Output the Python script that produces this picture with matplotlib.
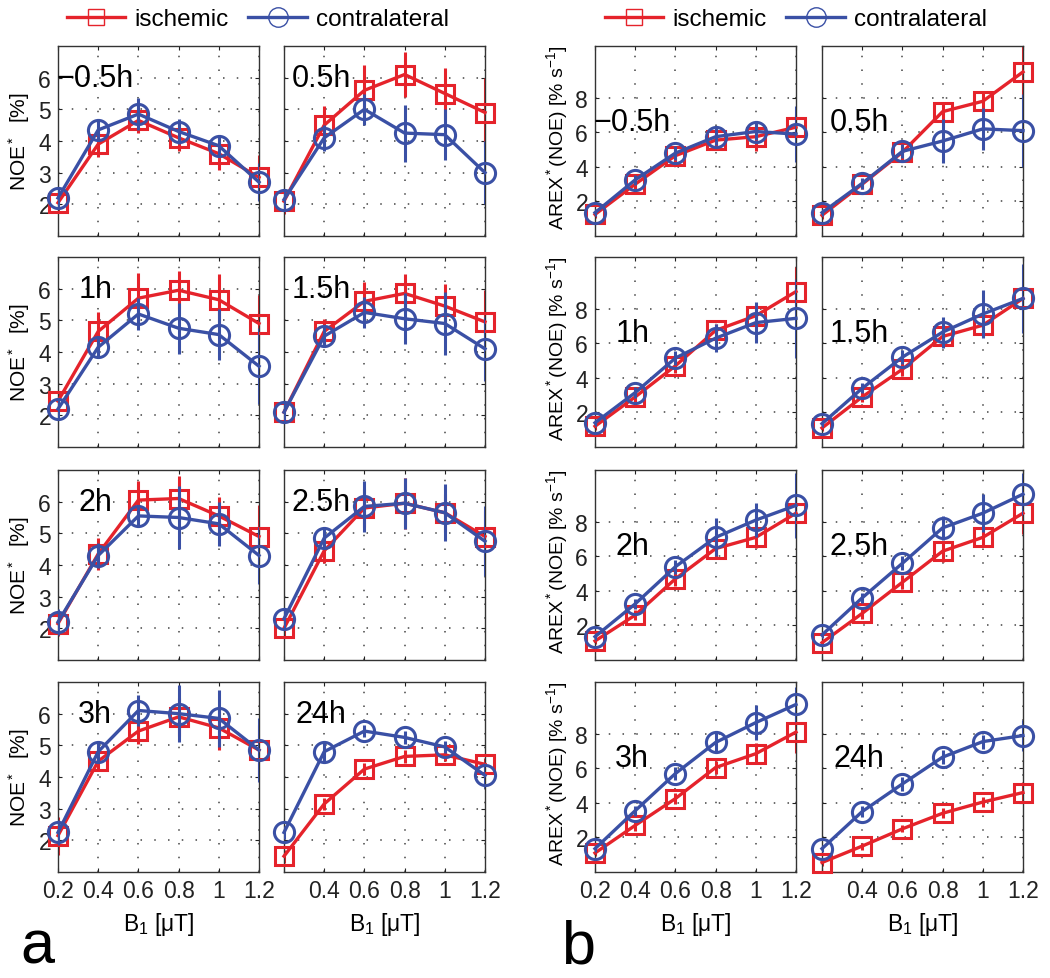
import matplotlib
matplotlib.use("Agg")
import matplotlib.pyplot as plt
from matplotlib.lines import Line2D

plt.rcParams['font.family'] = ['Liberation Sans', 'DejaVu Sans']
plt.rcParams['mathtext.fontset'] = 'custom'
plt.rcParams['mathtext.rm'] = 'Liberation Sans'
plt.rcParams['mathtext.it'] = 'Liberation Sans'

b1 = [0.2, 0.4, 0.6, 0.8, 1.0, 1.2]
timepoints = ['\u22120.5h', '0.5h', '1h', '1.5h', '2h', '2.5h', '3h', '24h']

noe_isch = [
    [2.05, 3.9, 4.65, 4.1, 3.6, 2.85],
    [2.1, 4.5, 5.6, 6.1, 5.5, 4.9],
    [2.45, 4.65, 5.7, 5.95, 5.65, 4.9],
    [2.1, 4.65, 5.6, 5.85, 5.45, 4.95],
    [2.15, 4.35, 6.05, 6.1, 5.55, 4.9],
    [2.0, 4.45, 5.8, 5.95, 5.65, 4.9],
    [2.15, 4.5, 5.45, 5.9, 5.55, 4.85],
    [1.5, 3.15, 4.25, 4.65, 4.7, 4.4],
]
noe_isch_err = [
    [0.3, 0.4, 0.4, 0.4, 0.5, 0.7],
    [0.4, 0.6, 0.8, 0.7, 0.8, 1.1],
    [0.3, 0.6, 0.8, 0.6, 0.8, 0.9],
    [0.3, 0.4, 0.6, 0.6, 0.7, 1.0],
    [0.4, 0.5, 0.6, 0.7, 0.6, 1.0],
    [0.3, 0.4, 0.6, 0.8, 0.6, 0.8],
    [0.6, 0.3, 0.4, 0.6, 0.7, 0.8],
    [0.2, 0.2, 0.2, 0.2, 0.2, 0.2],
]
noe_contra = [
    [2.2, 4.35, 4.85, 4.3, 3.85, 2.7],
    [2.15, 4.1, 5.0, 4.25, 4.2, 3.0],
    [2.2, 4.15, 5.2, 4.75, 4.55, 3.55],
    [2.1, 4.5, 5.25, 5.05, 4.9, 4.1],
    [2.2, 4.3, 5.55, 5.5, 5.3, 4.3],
    [2.3, 4.85, 5.85, 5.95, 5.65, 4.75],
    [2.25, 4.8, 6.1, 6.0, 5.85, 4.85],
    [2.25, 4.8, 5.45, 5.25, 4.95, 4.05],
]
noe_contra_err = [
    [0.3, 0.3, 0.5, 0.4, 0.3, 0.6],
    [0.3, 0.4, 0.5, 0.9, 0.8, 1.0],
    [0.3, 0.3, 0.5, 0.8, 0.8, 1.2],
    [0.3, 0.3, 0.5, 0.8, 1.0, 1.0],
    [0.4, 0.4, 0.3, 1.0, 0.7, 0.9],
    [0.3, 0.3, 0.8, 0.8, 0.9, 1.1],
    [0.4, 0.3, 0.5, 0.9, 0.9, 1.0],
    [0.2, 0.3, 0.2, 0.2, 0.2, 0.4],
]
arex_isch = [
    [1.25, 3.0, 4.65, 5.55, 5.75, 6.3],
    [1.2, 3.0, 4.85, 7.2, 7.8, 9.5],
    [1.2, 2.9, 4.7, 6.75, 7.6, 9.0],
    [1.1, 2.9, 4.5, 6.4, 7.05, 8.6],
    [1.1, 2.6, 4.7, 6.45, 7.1, 8.5],
    [1.0, 2.7, 4.5, 6.3, 7.1, 8.5],
    [1.1, 2.7, 4.25, 6.05, 6.85, 8.1],
    [0.55, 1.5, 2.5, 3.4, 4.05, 4.6],
]
arex_isch_err = [
    [0.2, 0.3, 0.4, 0.5, 0.8, 0.7],
    [0.2, 0.3, 0.5, 0.5, 0.5, 1.5],
    [0.2, 0.3, 0.4, 0.4, 0.5, 1.4],
    [0.2, 0.3, 0.4, 0.5, 0.6, 0.8],
    [0.2, 0.3, 0.4, 0.5, 0.6, 1.0],
    [0.2, 0.3, 0.4, 0.6, 0.5, 1.2],
    [0.2, 0.3, 0.3, 0.4, 0.6, 1.2],
    [0.2, 0.2, 0.2, 0.3, 0.3, 0.6],
]
arex_contra = [
    [1.35, 3.25, 4.8, 5.75, 6.05, 5.9],
    [1.35, 3.05, 4.9, 5.5, 6.2, 6.1],
    [1.4, 3.15, 5.15, 6.3, 7.2, 7.45],
    [1.35, 3.4, 5.2, 6.65, 7.7, 8.6],
    [1.35, 3.25, 5.4, 7.1, 8.1, 8.95],
    [1.45, 3.6, 5.6, 7.65, 8.5, 9.6],
    [1.35, 3.55, 5.7, 7.5, 8.65, 9.7],
    [1.35, 3.5, 5.1, 6.65, 7.55, 7.9],
]
arex_contra_err = [
    [0.2, 0.3, 0.4, 0.5, 0.5, 1.6],
    [0.2, 0.3, 0.4, 1.3, 1.2, 2.1],
    [0.2, 0.3, 0.4, 0.8, 1.2, 2.3],
    [0.2, 0.3, 0.4, 0.9, 1.4, 2.0],
    [0.2, 0.3, 0.4, 1.1, 1.0, 1.9],
    [0.2, 0.3, 0.4, 0.7, 1.1, 1.2],
    [0.2, 0.3, 0.4, 0.6, 1.0, 1.0],
    [0.2, 0.3, 0.4, 0.4, 0.4, 0.9],
]

RED = '#E5232B'
BLUE = '#3A50A5'
W, H = 1050, 979
fig = plt.figure(figsize=(10.5, 9.79), dpi=100)

col_left = {'a': [58, 284], 'b': [595, 822]}
row_top = [47, 258, 471, 683]
ax_w, ax_h = 201, 190


def draw(ax, x, y1, e1, y2, e2):
    ax.errorbar(x, y1, yerr=e1, fmt='none', ecolor=RED, elinewidth=2.2, capsize=0, zorder=2)
    ax.plot(x, y1, color=RED, lw=2.4, marker='s', ms=12.5, mfc='none', mec=RED,
            mew=2.2, clip_on=False, zorder=3)
    ax.errorbar(x, y2, yerr=e2, fmt='none', ecolor=BLUE, elinewidth=2.2, capsize=0, zorder=4)
    ax.plot(x, y2, color=BLUE, lw=2.4, marker='o', ms=14.5, mfc='none', mec=BLUE,
            mew=2.2, clip_on=False, zorder=5)


for panel in ['a', 'b']:
    for r in range(4):
        for c in range(2):
            idx = r * 2 + c
            left = col_left[panel][c]
            ax = fig.add_axes([left / W, 1 - (row_top[r] + ax_h) / H, ax_w / W, ax_h / H])
            if panel == 'a':
                draw(ax, b1, noe_isch[idx], noe_isch_err[idx], noe_contra[idx], noe_contra_err[idx])
                ax.set_ylim(1, 7)
                ax.set_yticks([2, 3, 4, 5, 6])
                ty = 6.0
            else:
                draw(ax, b1, arex_isch[idx], arex_isch_err[idx], arex_contra[idx], arex_contra_err[idx])
                ax.set_ylim(0, 11)
                ax.set_yticks([2, 4, 6, 8])
                ty = 6.6
            ax.set_xlim(0.2, 1.2)
            ax.set_xticks(b1)
            ax.grid(True, color='#444444', linestyle=(0, (1, 8)), linewidth=1.1)
            ax.tick_params(direction='in', length=3, width=0.8, top=True, right=True,
                           labelsize=16.5, pad=5, colors='#222222')
            for s in ax.spines.values():
                s.set_linewidth(1.0)
                s.set_color('#333333')
            ax.text(0.385, ty, timepoints[idx], fontsize=22, ha='center', va='center', zorder=6)
            if c == 0:
                if panel == 'a':
                    ax.set_ylabel('NOE$^*$  [%]', fontsize=15)
                    ax.yaxis.set_label_coords(-0.13, 0.5)
                else:
                    ax.set_ylabel('AREX$^*$(NOE) [% s$^{-1}$]', fontsize=14)
                    ax.yaxis.set_label_coords(-0.125, 0.52)
            else:
                ax.set_yticklabels([])
            if r == 3:
                labels = ['0.2', '0.4', '0.6', '0.8', '1', '1.2']
                if c == 1:
                    labels[0] = ''
                ax.set_xticklabels(labels)
                ax.set_xlabel('B$_1$ [\u03bcT]', fontsize=16.5, labelpad=6)
            else:
                ax.set_xticklabels([])

# legends
h_isch = Line2D([], [], color=RED, lw=2.4, marker='s', ms=11, mfc='none', mec=RED, mew=1.0)
h_contra = Line2D([], [], color=BLUE, lw=2.4, marker='o', ms=14, mfc='none', mec=BLUE, mew=1.0)
for cx in [258 / W, 796 / W]:
    fig.legend([h_isch, h_contra], ['ischemic', 'contralateral'], loc='center',
               bbox_to_anchor=(cx, 1 - 20 / H), ncol=2, frameon=False, fontsize=17.5,
               handlelength=2.4, handletextpad=0.4, columnspacing=0.8,
               borderpad=0, borderaxespad=0)

fig.text(20 / W, 2 / H, 'a', fontsize=44, ha='left', va='bottom')
fig.text(561 / W, 2 / H, 'b', fontsize=44, ha='left', va='bottom')

fig.savefig('out.png', dpi=100)
